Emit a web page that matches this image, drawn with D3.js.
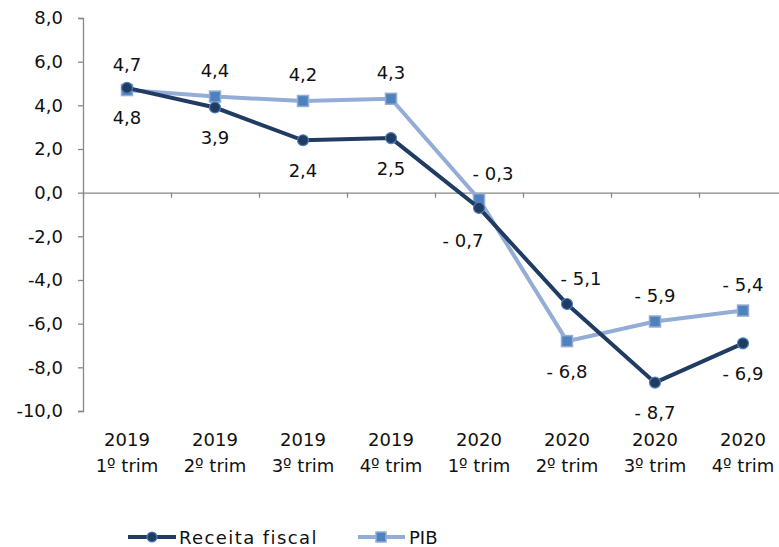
<!DOCTYPE html>
<meta charset="utf-8">
<script src="https://cdn.jsdelivr.net/npm/d3@7"></script>
<style>
  body { margin: 0; background: #fff; }
  text { font-family: "DejaVu Sans", sans-serif; fill: #111; }
</style>
<div id="chart"></div>
<script>
// dados (variação %, trimestral)
var anos = ["2019", "2019", "2019", "2019", "2020", "2020", "2020", "2020"]
var trims = ["1º trim", "2º trim", "3º trim", "4º trim", "1º trim", "2º trim", "3º trim", "4º trim"]
var receita = [4.8, 3.9, 2.4, 2.5, -0.7, -5.1, -8.7, -6.9]
var pib = [4.7, 4.4, 4.2, 4.3, -0.3, -6.8, -5.9, -5.4]
var yTicks = [8, 6, 4, 2, 0, -2, -4, -6, -8, -10]

// onde fica cada rótulo (a = acima, b = abaixo, bl = abaixo à esquerda, ar = acima à direita)
var posReceita = ["b", "b", "b", "b", "bl", "ar", "b", "b"]
var posPib = ["a", "a", "a", "a", "ar", "b", "a", "a"]

var W = 779, H = 547
var corReceita = "#213c63", corPib = "#93add6"
var fs = "18px"

var svg = d3.select("#chart").append("svg")
    .attr("width", W).attr("height", H)

var x = d3.scaleBand()
    .domain(d3.range(anos.length))
    .range([83, 787])
var y = d3.scaleLinear()
    .domain([-10, 8])
    .range([411, 18])

function cx(i) { return x(i) + x.bandwidth() / 2 }
function fmt(v) {
    var s = Math.abs(v).toFixed(1).replace(".", ",")
    return v < 0 ? "- " + s : s
}

// eixo y
var gy = svg.append("g")
    .attr("transform", "translate(83,0)")
    .call(d3.axisLeft(y).tickValues(yTicks).tickSize(5).tickPadding(15)
        .tickFormat(function(d) { return d.toFixed(1).replace(".", ",") }))
gy.select(".domain").attr("stroke", "#888").attr("stroke-width", 1.3)
gy.selectAll(".tick line").attr("stroke", "#888").attr("stroke-width", 1.3)
gy.selectAll("text").style("font-size", fs).attr("font-family", null)

// eixo x na linha do zero
var gx = svg.append("g")
    .attr("transform", "translate(0," + y(0) + ")")
    .call(d3.axisBottom(d3.scaleLinear().domain([0, 8]).range([83, 787]))
        .tickValues(d3.range(1, 9)).tickSize(5).tickFormat(""))
gx.select(".domain").attr("stroke", "#888").attr("stroke-width", 1.3)
gx.selectAll(".tick line").attr("stroke", "#888").attr("stroke-width", 1.3)

// rótulos das categorias
var cat = svg.append("g").selectAll("text")
    .data(anos)
    .enter()
    .append("text")
    .attr("text-anchor", "middle")
    .style("font-size", fs)
cat.append("tspan").attr("x", function(d, i) { return cx(i) }).attr("y", 446).text(function(d) { return d })
cat.append("tspan").attr("x", function(d, i) { return cx(i) }).attr("y", 472).text(function(d, i) { return trims[i] })

var line = d3.line()
    .x(function(d, i) { return cx(i) })
    .y(function(d) { return y(d) })

// série PIB
svg.append("path")
    .attr("d", line(pib))
    .attr("fill", "none")
    .attr("stroke", corPib)
    .attr("stroke-width", 4)
svg.selectAll(".sq")
    .data(pib)
    .enter()
    .append("rect")
    .attr("x", function(d, i) { return cx(i) - 5.5 })
    .attr("y", function(d) { return y(d) - 5.5 })
    .attr("width", 11).attr("height", 11)
    .attr("fill", "#4f81bd")
    .attr("stroke", corPib)
    .attr("stroke-width", 1.5)

// série Receita fiscal
svg.append("path")
    .attr("d", line(receita))
    .attr("fill", "none")
    .attr("stroke", corReceita)
    .attr("stroke-width", 4)
svg.selectAll(".ci")
    .data(receita)
    .enter()
    .append("circle")
    .attr("cx", function(d, i) { return cx(i) })
    .attr("cy", function(d) { return y(d) })
    .attr("r", 5.5)
    .attr("fill", corReceita)
    .attr("stroke", "#4f81bd")
    .attr("stroke-width", 1.2)

// rótulos de dados
var off = {
    a: [0, -26],
    b: [0, 30],
    bl: [-16, 33],
    ar: [14, -26]
}
function rotulos(serie, pos) {
    svg.append("g").selectAll("text")
        .data(serie)
        .enter()
        .append("text")
        .attr("text-anchor", "middle")
        .attr("dominant-baseline", "central")
        .style("font-size", fs)
        .attr("x", function(d, i) { return cx(i) + off[pos[i]][0] })
        .attr("y", function(d, i) { return y(d) + off[pos[i]][1] })
        .text(fmt)
}
rotulos(receita, posReceita)
rotulos(pib, posPib)

// legenda
var leg = svg.append("g").attr("transform", "translate(0,537)")
leg.append("line").attr("x1", 128).attr("x2", 176).attr("stroke", corReceita).attr("stroke-width", 4)
leg.append("circle").attr("cx", 152).attr("r", 5).attr("fill", corReceita).attr("stroke", "#4f81bd").attr("stroke-width", 1.2)
leg.append("text").attr("x", 179).attr("dominant-baseline", "central").style("font-size", fs)
    .style("letter-spacing", "1.4px").text("Receita fiscal")
leg.append("line").attr("x1", 358).attr("x2", 405).attr("stroke", corPib).attr("stroke-width", 4)
leg.append("rect").attr("x", 376).attr("y", -5).attr("width", 10).attr("height", 10).attr("fill", "#4f81bd").attr("stroke", corPib).attr("stroke-width", 1.5)
leg.append("text").attr("x", 409).attr("dominant-baseline", "central").style("font-size", fs).text("PIB")
</script>
